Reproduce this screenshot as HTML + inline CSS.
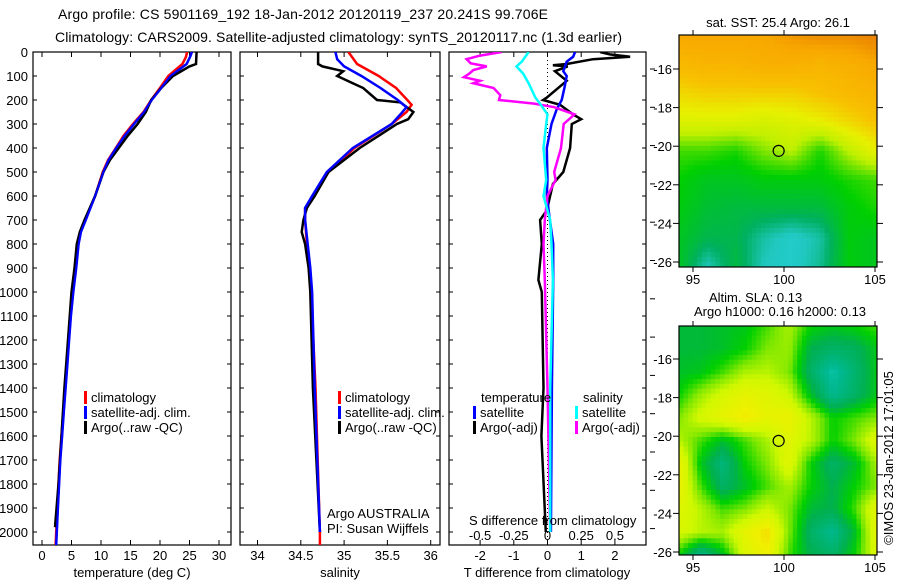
<!DOCTYPE html>
<html><head><meta charset="utf-8"><style>
html,body{margin:0;padding:0;background:#fff;}
svg{display:block;font-family:"Liberation Sans",sans-serif;}
text{fill:#000;}
</style></head><body>
<svg id="root" width="900" height="580" viewBox="0 0 900 580" xmlns="http://www.w3.org/2000/svg">
<rect x="0" y="0" width="900" height="580" fill="#fff"/>
<text x="58" y="19" font-size="14" textLength="490">Argo profile: CS 5901169_192 18-Jan-2012 20120119_237 20.241S 99.706E</text>
<text x="55" y="42" font-size="14" textLength="567">Climatology: CARS2009. Satellite-adjusted climatology: synTS_20120117.nc (1.3d earlier)</text>
<defs>
<clipPath id="c1"><rect x="33" y="52" width="198" height="493"/></clipPath>
<clipPath id="c2"><rect x="240" y="52" width="200" height="493"/></clipPath>
<clipPath id="c3"><rect x="449" y="52" width="197" height="493"/></clipPath>
</defs>
<g id="g1"></g>
<g id="g2"></g>
<g id="g3"></g>
<g id="m1"></g>
<g id="m2"></g>
<text x="0" y="0" font-size="13" transform="translate(893,458) rotate(-90)" text-anchor="middle">©IMOS 23-Jan-2012 17:01:05</text>
</svg>
<script>
// ---- data ----
const depthTicks=[0,100,200,300,400,500,600,700,800,900,1000,1100,1200,1300,1400,1500,1600,1700,1800,1900,2000];
const tTicks=[0,5,10,15,20,25,30];
const sTicks=[34,34.5,35,35.5,36];
const dTTicks=[-2,-1,0,1,2];
const dSTicks=[-0.5,-0.25,0,0.25,0.5];
const dSTickLabels=["-0.5","-0.25","0","0.25","0.5"];
const tClimDepth=[0,20,50,100,150,200,250,300,350,400,450,500,600,700,750,800,900,1000,1100,1200,1300,1400,1500,1600,1700,1800,1900,2000,2055];
const tClim=[24.6,24.4,23.8,21.4,20,18.5,17.2,15.4,13.8,12.5,11.2,10.3,9.0,7.3,6.5,6.1,5.7,5.2,4.8,4.5,4.2,3.9,3.6,3.3,3.0,2.8,2.6,2.4,2.3];
const tSat=[25.4,25.1,24.5,21.8,20.2,18.6,17.3,15.6,14.0,12.6,11.3,10.4,9.0,7.4,6.6,6.2,5.8,5.3,4.9,4.6,4.3,4.0,3.7,3.4,3.1,2.9,2.7,2.5,2.4];
const tArgoDepth=[0,50,60,100,150,200,250,300,350,400,450,500,600,700,750,800,900,1000,1200,1400,1600,1800,1980];
const tArgo=[26.2,26.1,25.0,22.2,20.2,18.5,17.6,16.2,14.5,13.0,11.5,10.4,9.0,7.2,6.4,5.9,5.5,5.0,4.4,3.8,3.3,2.8,2.2];
const sClimDepth=[0,50,100,150,200,220,250,300,400,500,600,650,700,800,900,1000,1400,2000,2055];
const sClim=[35.05,35.15,35.4,35.6,35.73,35.78,35.72,35.55,35.12,34.82,34.64,34.55,34.55,34.57,34.60,34.62,34.67,34.72,34.72];
const sSatDepth=[0,30,60,100,150,200,230,260,300,400,500,600,650,700,800,900,1000,1400,2000];
const sSat=[34.9,34.92,35.0,35.2,35.42,35.62,35.72,35.65,35.55,35.1,34.8,34.63,34.55,34.55,34.58,34.61,34.63,34.66,34.72];
const sArgoDepth=[0,50,60,80,100,130,150,200,210,250,280,300,400,500,600,650,700,750,800,900,1000,1400,2000];
const sArgo=[34.70,34.70,34.75,34.99,34.92,35.1,35.22,35.38,35.65,35.8,35.74,35.61,35.18,34.82,34.66,34.57,34.53,34.51,34.55,34.59,34.61,34.64,34.72];
const dTSatDepth=[0,20,40,80,100,150,200,240,300,400,533,600,700,800,950,1400,2000];
const dTSat=[0.82,0.76,0.57,0.47,0.57,0.5,0.42,0.27,0.12,-0.02,0.0,-0.02,0.07,0.17,0.17,0.13,0.1];
const dTArgoDepth=[0,10,20,30,50,55,60,80,120,190,200,220,260,280,300,400,500,550,660,700,800,950,1000,1400,1600,2000];
const dTArgo=[1.56,1.85,2.45,1.35,0.57,0.16,0.6,0.22,0.57,-0.02,-0.13,0.37,0.76,1.0,0.72,0.67,0.47,0.16,-0.02,-0.22,-0.17,-0.27,-0.17,-0.12,-0.18,-0.05];
const dSSatDepth=[0,40,60,90,130,190,220,260,300,400,533,600,700,800,950,1400,2000];
const dSSat=[-0.14,-0.19,-0.23,-0.18,-0.14,-0.09,-0.05,0,-0.01,-0.03,-0.01,-0.03,0.02,0.03,0.04,0.02,0.02];
const dSArgoDepth=[0,15,30,47,60,75,90,105,120,130,150,180,200,215,230,260,300,400,500,533,600,700,800,950,1400,2000];
const dSArgo=[-0.34,-0.5,-0.6,-0.57,-0.45,-0.55,-0.58,-0.62,-0.5,-0.55,-0.4,-0.35,-0.36,-0.1,0.05,0.2,0.12,0.1,0.05,0.06,0.0,-0.02,-0.03,-0.02,0.0,0.02];
const mapLonTicks=[95,100,105];
const mapLatTicks=[-16,-18,-20,-22,-24,-26];
const argoLon=99.706, argoLat=-20.241;
// SST coarse grid (0=cool cyan .. 1=hot red), rows north->south, cols west->east
const sstGrid=[
[.85,.85,.85,.85,.88,.9,.9,.92],
[.78,.8,.8,.82,.82,.8,.82,.85],
[.7,.72,.72,.72,.72,.75,.78,.8],
[.62,.62,.62,.6,.62,.65,.7,.75],
[.45,.45,.42,.5,.55,.42,.55,.65],
[.4,.35,.35,.38,.38,.38,.42,.45],
[.38,.32,.3,.3,.3,.3,.38,.42],
[.35,.28,.28,.18,.12,.18,.38,.35],
[.35,.15,.3,.15,.12,.2,.38,.35]];
const slaGrid=[
[.38,.38,.4,.42,.5,.6,.45,.42,.45,.5],
[.38,.38,.4,.45,.55,.58,.35,.3,.32,.42],
[.4,.42,.5,.6,.62,.55,.3,.15,.28,.42],
[.45,.58,.68,.75,.72,.65,.4,.2,.3,.42],
[.55,.68,.75,.82,.75,.78,.62,.45,.5,.55],
[.62,.5,.4,.5,.6,.72,.62,.45,.55,.72],
[.78,.42,.25,.45,.55,.72,.45,.3,.4,.6],
[.78,.5,.3,.4,.5,.6,.45,.35,.45,.55],
[.72,.62,.5,.55,.65,.55,.38,.35,.5,.75],
[.68,.62,.6,.75,.85,.55,.3,.2,.4,.75],
[.45,.2,.4,.7,.8,.5,.35,.3,.45,.7]];

const NS="http://www.w3.org/2000/svg";
function mk(parent,tag,attrs,txt){const e=document.createElementNS(NS,tag);for(const k in attrs)e.setAttribute(k,attrs[k]);if(txt!==undefined)e.textContent=txt;parent.appendChild(e);return e;}
const yD=d=>52+0.24*d;
const xT=t=>42+5.9*t;
const xS=s=>257.5+86.6*(s-34);
const xdT=v=>547.5+33.7*v;
const xdS=v=>547.5+134.8*v;
const PB=545;

function frame(g,x0,x1,yl){
  const r=mk(g,'rect',{x:x0,y:52,width:x1-x0,height:PB-52,fill:'none',stroke:'#000','stroke-width':1.2});
  
  
  depthTicks.forEach(d=>{
    const y=yD(d);
    mk(g,'line',{x1:x0,y1:y,x2:x0+4,y2:y,stroke:'#000'});
    mk(g,'line',{x1:x1-4,y1:y,x2:x1,y2:y,stroke:'#000'});
    if(yl){const t=mk(g,'text',{x:28,y:y+5,'font-size':13,'text-anchor':'end'},String(d));
      
      }
  });
}
function xAxis(g,ticks,fx,labels,ly){
  ticks.forEach((v,i)=>{const x=fx(v);
    mk(g,'line',{x1:x,y1:52,x2:x,y2:57,stroke:'#000'});
    mk(g,'line',{x1:x,y1:PB-5,x2:x,y2:PB,stroke:'#000'});
    const t=mk(g,'text',{x:x,y:ly,'font-size':13,'text-anchor':'middle'},labels?labels[i]:String(v));
    
    
  });
}
function line(g,clip,depths,vals,fx,color,name,w){
  const pts=depths.map((d,i)=>fx(vals[i]).toFixed(1)+','+yD(d).toFixed(1)).join(' ');
  const p=mk(g,'polyline',{points:pts,fill:'none',stroke:color,'stroke-width':w||2.5,'clip-path':'url(#'+clip+')','stroke-linejoin':'miter'});
  
  
}
function legend(g,x,y,color,label){
  mk(g,'rect',{x:x,y:y-11,width:3,height:13,fill:color});
  const t=mk(g,'text',{x:x+7,y:y,'font-size':13},label);
  
  
}
// panel 1
const g1=document.getElementById('g1');
frame(g1,33,231,true);
xAxis(g1,tTicks,xT,null,560);
line(g1,'c1',tClimDepth,tClim,xT,'#f00','temp-climatology-line');
line(g1,'c1',tClimDepth,tSat,xT,'#00f','temp-satellite-line');
line(g1,'c1',tArgoDepth,tArgo,xT,'#000','temp-argo-line');
line(g1,'c1',tClimDepth,tSat,xT,'#00f','temp-satellite-line-top',2);
let t=mk(g1,'text',{x:132,y:577,'font-size':13,'text-anchor':'middle'},'temperature (deg C)');

legend(g1,84,402,'#f00','climatology');legend(g1,84,417,'#00f','satellite-adj. clim.');legend(g1,84,432,'#000','Argo(..raw -QC)');
// panel 2
const g2=document.getElementById('g2');
frame(g2,240,440,false);
xAxis(g2,sTicks,xS,null,560);
line(g2,'c2',sClimDepth,sClim,xS,'#f00','sal-climatology-line');
line(g2,'c2',sArgoDepth,sArgo,xS,'#000','sal-argo-line');
line(g2,'c2',sSatDepth,sSat,xS,'#00f','sal-satellite-line');
t=mk(g2,'text',{x:340,y:577,'font-size':13,'text-anchor':'middle'},'salinity');

legend(g2,338,402,'#f00','climatology');legend(g2,338,417,'#00f','satellite-adj. clim.');legend(g2,338,432,'#000','Argo(..raw -QC)');
t=mk(g2,'text',{x:327,y:518,'font-size':13},'Argo AUSTRALIA');

t=mk(g2,'text',{x:327,y:533,'font-size':13},'PI: Susan Wijffels');

// panel 3
const g3=document.getElementById('g3');
frame(g3,449,646,false);
xAxis(g3,dTTicks,xdT,null,560);
mk(g3,'line',{x1:xdT(0),y1:52,x2:xdT(0),y2:PB,stroke:'#000','stroke-dasharray':'1,3'});
for(let y=69;y<PB;y+=38.3){mk(g3,'line',{x1:650,y1:y,x2:655,y2:y,stroke:'#000'});}
line(g3,'c3',dTArgoDepth,dTArgo,xdT,'#000','tdiff-argo-line');
line(g3,'c3',dTSatDepth,dTSat,xdT,'#00f','tdiff-satellite-line');
line(g3,'c3',dSArgoDepth,dSArgo,xdS,'#f0f','sdiff-argo-line');
line(g3,'c3',dSSatDepth,dSSat,xdS,'#0ff','sdiff-satellite-line');
dSTicks.forEach((v,i)=>{t=mk(g3,'text',{x:xdS(v),y:540,'font-size':13,'text-anchor':'middle'},dSTickLabels[i]);
  });
t=mk(g3,'text',{x:469,y:525,'font-size':13},'S difference from climatology');

t=mk(g3,'text',{x:547,y:577,'font-size':13,'text-anchor':'middle'},'T difference from climatology');

t=mk(g3,'text',{x:481,y:402,'font-size':13},'temperature');

t=mk(g3,'text',{x:583,y:402,'font-size':13},'salinity');

legend(g3,473,417,'#00f','satellite');legend(g3,473,432,'#000','Argo(-adj)');
legend(g3,575,417,'#0ff','satellite');legend(g3,575,432,'#f0f','Argo(-adj)');
// maps
const sstStops=[[0,[48,216,240]],[0.15,[32,200,192]],[0.25,[0,176,96]],[0.4,[0,208,0]],[0.55,[192,240,0]],[0.65,[232,240,0]],[0.75,[248,192,0]],[0.85,[248,168,0]],[0.92,[232,128,0]],[1,[160,0,0]]];
const slaStops=[[0,[32,224,224]],[0.2,[0,184,144]],[0.35,[0,176,80]],[0.45,[0,208,0]],[0.55,[128,232,0]],[0.65,[208,248,0]],[0.8,[240,240,0]],[0.9,[248,200,0]],[1,[248,160,0]]];
function ramp(st,v){v=Math.max(0,Math.min(1,v));for(let i=1;i<st.length;i++){if(v<=st[i][0]){const a=st[i-1],b=st[i],f=(v-a[0])/(b[0]-a[0]);
  return 'rgb('+a[1].map((c,k)=>Math.round(c+(b[1][k]-c)*f)).join(',')+')';}}return 'rgb(0,0,0)';}
function sample(grid,u,v){const R=grid.length,C=grid[0].length;const fy=v*(R-1),fx=u*(C-1);
  const i=Math.min(R-2,Math.floor(fy)),j=Math.min(C-2,Math.floor(fx));const a=fy-i,b=fx-j;
  return grid[i][j]*(1-a)*(1-b)+grid[i][j+1]*(1-a)*b+grid[i+1][j]*a*(1-b)+grid[i+1][j+1]*a*b;}
function drawMap(id,top,bot,grid,stops,lat16y,title){
  const g=document.getElementById(id);
  const L=679,Rr=877;
  const lonX=lon=>693+18.2*(lon-95);
  const latY=lat=>lat16y+19.3*(-16-lat);
  const cw=18.2/4,ch=19.3/4;
  for(let y=top;y<bot;y+=ch){for(let x=L;x<Rr;x+=cw){
    const u=(x+cw/2-L)/(Rr-L),v=(y+ch/2-top)/(bot-top);
    mk(g,'rect',{x:x.toFixed(2),y:y.toFixed(2),width:(Math.min(cw,Rr-x)+0.4).toFixed(2),height:(Math.min(ch,bot-y)+0.4).toFixed(2),fill:ramp(stops,sample(grid,u,v))});
  }}
  const fr=mk(g,'rect',{x:L,y:top,width:Rr-L,height:bot-top,fill:'none',stroke:'#000','stroke-width':1.2});
  
  mapLonTicks.forEach(lon=>{const x=lonX(lon);
    mk(g,'line',{x1:x,y1:top-5,x2:x,y2:top,stroke:'#000'});mk(g,'line',{x1:x,y1:bot,x2:x,y2:bot+5,stroke:'#000'});
    const tt=mk(g,'text',{x:x,y:bot+17,'font-size':13,'text-anchor':'middle'},String(lon));
    });
  mapLatTicks.forEach(lat=>{const y=latY(lat);
    mk(g,'line',{x1:L-6,y1:y,x2:L,y2:y,stroke:'#000'});mk(g,'line',{x1:Rr,y1:y,x2:Rr+6,y2:y,stroke:'#000'});
    const tt=mk(g,'text',{x:L-7,y:y+5,'font-size':13,'text-anchor':'end'},String(lat));
    });
  const c=mk(g,'circle',{cx:lonX(argoLon),cy:latY(argoLat),r:5.5,fill:'none',stroke:'#000','stroke-width':1.2});
  
}
drawMap('m1',35,267,sstGrid,sstStops,69);
drawMap('m2',326,555,slaGrid,slaStops,359);
const m1=document.getElementById('m1'),m2=document.getElementById('m2');
t=mk(m1,'text',{x:778,y:27,'font-size':13,'text-anchor':'middle'},'sat. SST: 25.4 Argo: 26.1');

t=mk(m2,'text',{x:709,y:302,'font-size':13},'Altim. SLA: 0.13');

t=mk(m2,'text',{x:694,y:316,'font-size':13},'Argo h1000: 0.16 h2000: 0.13');

</script>
</body></html>
